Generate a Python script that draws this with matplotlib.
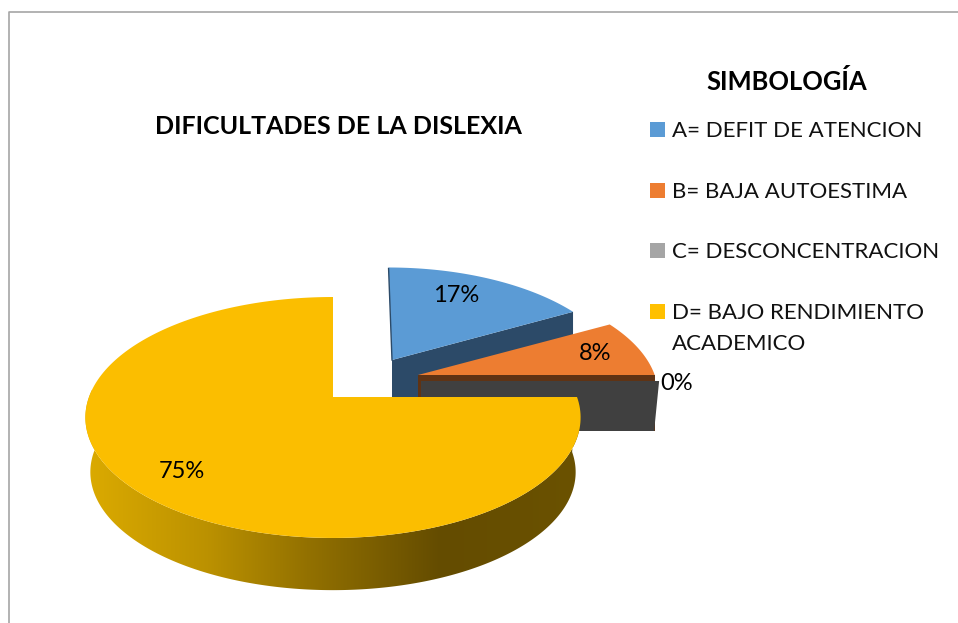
import numpy as np
import matplotlib
matplotlib.use('Agg')
import matplotlib.pyplot as plt
from matplotlib.colors import LinearSegmentedColormap
from matplotlib.patches import Polygon, Rectangle

categorias = ['A= DEFIT DE ATENCION', 'B= BAJA AUTOESTIMA', 'C= DESCONCENTRACION',
              'D= BAJO RENDIMIENTO\nACADEMICO']
valores = [17, 8, 0, 75]
colores = ['#5b9bd5', '#ed7d31', '#a5a5a5', '#ffc000']
titulo = 'DIFICULTADES DE LA DISLEXIA'
titulo_leyenda = 'SIMBOLOGÍA'

# perspective of the pie plane, all in pixels
RX = 244
RY = 117
K = 0.17


def punto(ang, cx, cy, s=1.0, sh=0.0):
    # ang in degrees, clockwise from the top
    a = np.radians(ang)
    u = np.sin(a)
    v = np.cos(a)
    d = 1 + K * v
    return cx + (s * RX * u - sh * v) / d, cy - s * RY * v / d


def gajo(a0, a1, cx, cy, s=1.0, sh=0.0):
    t = np.linspace(a0, a1, 200)
    x, y = punto(t, cx, cy, s, sh)
    return np.concatenate([[cx], x]), np.concatenate([[cy], y])


fig = plt.figure(figsize=(9.58, 6.23), dpi=100)
ax = fig.add_axes([0, 0, 1, 1])
ax.set_xlim(0, 958)
ax.set_ylim(623, 0)
ax.axis('off')
plt.rcParams['font.family'] = ['Lato', 'DejaVu Sans']

# outer border, only top and left show
ax.plot([9, 9, 958], [623, 12, 12], color='#a6a6a6', lw=1.2)

bordes = np.cumsum([0] + valores) * 360 / sum(valores)

# A slice
ax0, ay0 = 392, 360
x, y = gajo(bordes[0], bordes[1], ax0, ay0, 0.925, 4)
ax.add_patch(Polygon([(x[-1], y[-1]), (ax0, ay0), (ax0, ay0 + 50), (x[-1], y[-1] + 50)],
                     color='#2c4a68', lw=0))
ax.plot([x[1], ax0], [y[1] + 1, ay0], color='#2c4a68', lw=1)
ax.fill(x, y, color=colores[0], lw=0)

# B slice
bx0, by0 = 418, 375
x, y = gajo(bordes[1], bordes[2], bx0, by0, 0.97)
ax.add_patch(Polygon([(bx0, by0), (x[-1], y[-1]), (x[-1], y[-1] + 56), (bx0, by0 + 56)],
                     color='#5f3314', lw=0))
ax.fill(x, y, color=colores[1], lw=0)

# C slice is 0%, only its side wall shows
xc, yc = punto(bordes[2], bx0, by0, 0.98)
ax.add_patch(Polygon([(bx0 + 3, by0 + 6), (xc + 2, yc + 6), (xc - 3, yc + 56), (bx0 + 3, by0 + 56)],
                     color='#404040', lw=0))

# D slice, side wall with gradient then face
dx0, dy0 = 333, 397
t = np.linspace(bordes[2], 285, 300)
x1, y1 = punto(t, dx0, dy0)
x2, y2 = punto(t, dx0, dy0 + 55, 0.98)
pared = Polygon(np.column_stack([np.r_[x1, x2[::-1]], np.r_[y1, y2[::-1]]]),
                transform=ax.transData, fc='none', lw=0)
ax.add_patch(pared)
cmap = LinearSegmentedColormap.from_list('pared', [(0, '#dcab00'), (0.25, '#bb9100'), (0.45, '#937100'),
                                                   (0.72, '#644c00'), (1, '#6b5200')])
im = ax.imshow(np.linspace(0, 1, 256).reshape(1, -1), extent=[84, 580, 600, 390], cmap=cmap,
               aspect='auto', zorder=2)
im.set_clip_path(pared)
ax.set_xlim(0, 958)
ax.set_ylim(623, 0)
x, y = gajo(bordes[3], bordes[4], dx0, dy0)
ax.fill(x, y, color='#fbbe00', lw=0, zorder=3)

# data labels
pos_etq = [(456, 296), (595, 354), (677, 383), (182, 471)]
for v, p in zip(valores, pos_etq):
    ax.text(p[0], p[1], '%d%%' % v, ha='center', va='center', fontsize=17, color='black', zorder=4)

ax.text(338.5, 126, titulo, ha='center', va='center', fontsize=18, fontweight='bold', color='black')
ax.text(787, 81, titulo_leyenda, ha='center', va='center', fontsize=18.4, fontweight='bold', color='black')

# legend
ley_y = [122, 183, 243, 304]
for cat, col, yy in zip(categorias, colores, ley_y):
    ax.add_patch(Rectangle((650, yy), 15, 15, color=col, lw=0))
    ax.text(672, yy - 1, cat, ha='left', va='top', fontsize=16, color='#111111', linespacing=1.7)

fig.savefig('out.png', dpi=100)
